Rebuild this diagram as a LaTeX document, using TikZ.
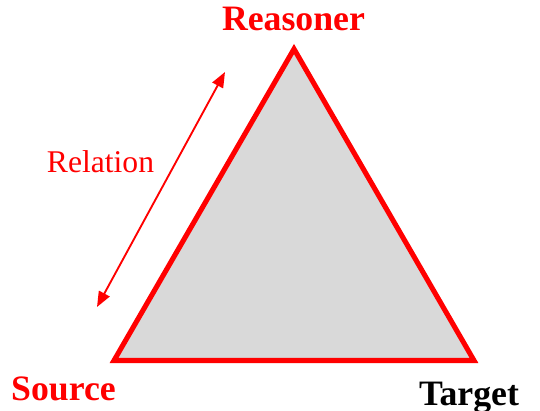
\documentclass[tikz,border=0pt]{standalone}
\usepackage{fontspec}
\setmainfont{Liberation Serif}
\usetikzlibrary{arrows.meta, positioning}
\definecolor{myred}{RGB}{255,0,0}
\definecolor{mygray}{RGB}{217,217,217}
\tikzset{
  vlabel/.style={anchor=base, font=\fontsize{26.8}{30}\selectfont\bfseries},
  rellabel/.style={anchor=base, font=\fontsize{23.7}{28}\selectfont, color=myred},
  relarrow/.style={{Triangle[length=11.5pt,width=9pt]}-{Triangle[length=11.5pt,width=9pt]}, line width=1.4pt, color=myred}
}

\begin{document}
\begin{tikzpicture}[x=0.75pt, y=-0.75pt]
  \useasboundingbox (0,0) rectangle (540,411);

  % Triangle corners
  \coordinate (apex) at (294,49);
  \coordinate (left) at (114,360.5);
  \coordinate (right) at (474,360.5);

  % Triangle
  \draw[fill=mygray, draw=myred, line width=3.8pt, line join=miter] (apex) -- (right) -- (left) -- cycle;

  % Corner labels
  \node[vlabel, color=myred] (reasoner) at (293.5,30) {Reasoner};
  \node[vlabel, color=myred] (source) at (63.5,400) {Source};
  \node[vlabel, color=black] (target) at (469,405) {Target};

  % Relation arrow
  \coordinate (reltop) at (225,72);
  \coordinate (relbot) at (97,307);
  \draw[relarrow] (relbot) -- (reltop);
  \node[rellabel] (relation) at (100.5,172) {Relation};
\end{tikzpicture}
\end{document}
